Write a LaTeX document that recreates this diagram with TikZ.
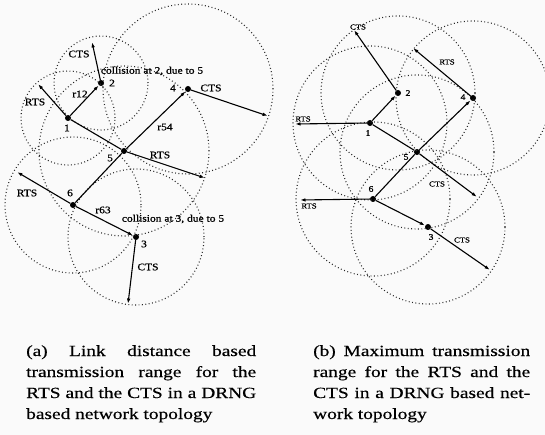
\documentclass[tikz,border=0pt]{standalone}
\usepackage{fontspec}
\setmainfont{Liberation Serif}
\newfontfamily\labfont{Liberation Serif}[FakeStretch=1.15,FakeBold=0.8]
\newfontfamily\capfont{Liberation Serif}[FakeStretch=1.25,FakeBold=0.4]
\usetikzlibrary{arrows.meta}
\begin{document}
\begin{tikzpicture}[x=1pt,y=-1pt,
 dot/.style={circle,fill=black,inner sep=0pt,minimum size=6pt},
 rng/.style={draw=black!85,line width=1.1pt,dash pattern=on 0.9pt off 2.5pt},
 link/.style={draw=black,line width=1.1pt},
 arr/.style={link,-{Latex[length=5.5pt,width=3.5pt]}},
 la/.style={inner sep=0pt,font=\labfont\fontsize{10}{11}\selectfont},
 lb/.style={inner sep=0pt,font=\labfont\fontsize{7.5}{9}\selectfont},
 nb/.style={inner sep=0pt,font=\labfont\fontsize{8.5}{9}\selectfont},
 capline/.style={anchor=base west,inner sep=0pt,font=\capfont\fontsize{15.5}{21}\selectfont}]
\useasboundingbox (0,0) rectangle (545,435);
\fill[black!2] (0,0) rectangle (545,435);

% ---------- (a) ----------
\node[dot] (a1) at (68,118) {};
\node[dot] (a2) at (101,83) {};
\node[dot] (a4) at (188,89) {};
\node[dot] (a5) at (124,151) {};
\node[dot] (a6) at (73,205) {};
\node[dot] (a3) at (136,237) {};
\coordinate (a1r) at (38,84);
\coordinate (a2c) at (92,42);
\coordinate (a4c) at (268,116);
\coordinate (a5r) at (205,178);
\coordinate (a6r) at (17,172);
\coordinate (a3c) at (128,304);

\draw[rng] (a1.center) circle[radius=47pt];
\draw[rng] (a2.center) circle[radius=47pt];
\draw[rng] (a4.center) circle[radius=85pt];
\draw[rng] (a5.center) circle[radius=85pt];
\draw[rng] (a6.center) circle[radius=68pt];
\draw[rng] (a3.center) circle[radius=68pt];

\draw[arr] (a1) -- (a2);
\draw[link] (a1) -- (a5);
\draw[arr] (a5) -- (a4);
\draw[link] (a5) -- (a6);
\draw[arr] (a6) -- (a3);
\draw[arr] (a1) -- (a1r);
\draw[arr] (a2) -- (a2c);
\draw[arr] (a4) -- (a4c);
\draw[arr] (a5) -- (a5r);
\draw[arr] (a6) -- (a6r);
\draw[arr] (a3) -- (a3c);

\node[la] (la2c) at (79,54) {CTS};
\node[la] (lacol2) at (152,71) {collision at 2, due to 5};
\node[la] (la2) at (112,83) {2};
\node[la] (lar12) at (80,94) {r12};
\node[la] (la1r) at (35,102) {RTS};
\node[la] (la1) at (67,128) {1};
\node[la] (la4) at (173,88) {4};
\node[la] (la4c) at (211,88) {CTS};
\node[la] (lar54) at (165,127) {r54};
\node[la] (la5) at (110,158) {5};
\node[la] (la5r) at (160,155) {RTS};
\node[la] (la6r) at (27,193) {RTS};
\node[la] (la6) at (70,193) {6};
\node[la] (lar63) at (103,210) {r63};
\node[la] (lacol3) at (173,219) {collision at 3, due to 5};
\node[la] (la3) at (144,244) {3};
\node[la] (la3c) at (148,267) {CTS};

% ---------- (b) ----------
\node[dot] (b1) at (370,123) {};
\node[dot] (b2) at (398,93) {};
\node[dot] (b4) at (473,98) {};
\node[dot] (b5) at (417,152) {};
\node[dot] (b6) at (373,199) {};
\node[dot] (b3) at (428,227) {};
\coordinate (b1r) at (295,124);
\coordinate (b2c) at (354,30);
\coordinate (b4r) at (413,48);
\coordinate (b5c) at (477,197);
\coordinate (b6r) at (300,200);
\coordinate (b3c) at (490,270);

\foreach \n in {b1,b2,b4,b5,b6,b3}
  \draw[rng] (\n.center) circle[radius=77pt];

\draw[arr] (b1) -- (b2);
\draw[link] (b1) -- (b5);
\draw[arr] (b5) -- (b4);
\draw[link] (b5) -- (b6);
\draw[arr] (b6) -- (b3);
\draw[arr] (b1) -- (b1r);
\draw[arr] (b2) -- (b2c);
\draw[arr] (b4) -- (b4r);
\draw[arr] (b5) -- (b5c);
\draw[arr] (b6) -- (b6r);
\draw[arr] (b3) -- (b3c);

\node[lb] (lb2c) at (358,27) {CTS};
\node[lb] (lb4r) at (447,62) {RTS};
\node[nb] (lb2) at (408,93) {2};
\node[nb] (lb4) at (463,97) {4};
\node[lb] (lb1r) at (303,119) {RTS};
\node[nb] (lb1) at (368,133) {1};
\node[nb] (lb5) at (406,157) {5};
\node[nb] (lb6) at (371,189) {6};
\node[lb] (lb5c) at (437,184) {CTS};
\node[lb] (lb6r) at (309,206) {RTS};
\node[nb] (lb3) at (431,237) {3};
\node[lb] (lb3c) at (462,240) {CTS};

% ---------- captions ----------
\node[capline] (ca1) at (26,356) {\makebox[230pt][s]{(a) Link distance based}};
\node[capline] (ca2) at (26,377) {\makebox[230pt][s]{transmission range for the}};
\node[capline] (ca3) at (26,398) {\makebox[230pt][s]{RTS and the CTS in a DRNG}};
\node[capline] (ca4) at (26,419) {based network topology};
\node[capline] (cb1) at (313,356) {\makebox[217pt][s]{(b) Maximum transmission}};
\node[capline] (cb2) at (313,377) {\makebox[217pt][s]{range for the RTS and the}};
\node[capline] (cb3) at (313,398) {\makebox[217pt][s]{CTS in a DRNG based net-}};
\node[capline] (cb4) at (313,419) {work topology};
\end{tikzpicture}
\end{document}
